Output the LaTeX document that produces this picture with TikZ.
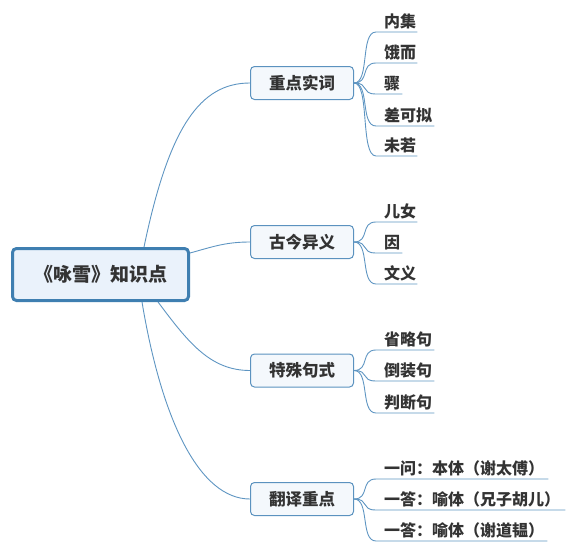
\documentclass[tikz,border=0pt]{standalone}
\usepackage{fontspec}
\usetikzlibrary{calc}
\newfontfamily\cjk{Noto Sans CJK SC}
\definecolor{rootblue}{HTML}{3F7FB1}
\definecolor{rootfill}{HTML}{EAF2FB}
\definecolor{topicblue}{HTML}{5B92BF}
\definecolor{topicfill}{HTML}{F4F8FC}
\definecolor{linkblue}{HTML}{5E95C2}
\definecolor{txt}{HTML}{333333}
\begin{document}
\begin{tikzpicture}[x=1pt,y=-1pt,
  rootbox/.style={draw=rootblue, line width=3pt, fill=rootfill, rounded corners=4pt,
    minimum width=176pt, minimum height=52pt, text=txt,
    font=\cjk\bfseries\fontsize{19}{21}\selectfont},
  topic/.style={draw=topicblue, line width=1pt, fill=topicfill, rounded corners=4pt,
    minimum width=103pt, minimum height=33pt, text=txt,
    font=\cjk\bfseries\fontsize{16.5}{18}\selectfont},
  leaf/.style={inner xsep=0pt, inner ysep=2.5pt, anchor=south west, text=txt,
    font=\cjk\bfseries\fontsize{16}{18}\selectfont},
  conn/.style={draw=linkblue, line width=0.9pt}]
\useasboundingbox (0,0) rectangle (575,551);

\node[rootbox] (root) at (100.5,274.5) {《咏雪》知识点};
\node[topic] (t1) at (302,83) {重点实词};
\node[topic] (t2) at (302,242) {古今异义};
\node[topic] (t3) at (302,370.5) {特殊句式};
\node[topic] (t4) at (302,499) {翻译重点};

% root connectors
\draw[conn] ($(root.north)+(43.5,0)$) .. controls +(25,-120) and +(-50,0) .. (t1.west);
\draw[conn] ($(root.north east)+(0,6)$) .. controls +(22,-6) and +(-25,0) .. (t2.west);
\draw[conn] ($(root.south)+(57.5,0)$) .. controls +(30,40) and +(-40,0) .. (t3.west);
\draw[conn] ($(root.south)+(41.5,0)$) .. controls +(20,120) and +(-50,0) .. (t4.west);

% leaves of t1
\node[leaf] (a1) at (384,32) {内集};
\node[leaf] (a2) at (384,63) {饿而};
\node[leaf] (a3) at (384,94) {骤};
\node[leaf] (a4) at (384,126) {差可拟};
\node[leaf] (a5) at (384,156) {未若};
% leaves of t2
\node[leaf] (b1) at (384,222) {儿女};
\node[leaf] (b2) at (384,253) {因};
\node[leaf] (b3) at (384,284) {文义};
% leaves of t3
\node[leaf] (c1) at (384,350) {省略句};
\node[leaf] (c2) at (384,381) {倒装句};
\node[leaf] (c3) at (384,413) {判断句};
% leaves of t4
\node[leaf] (d1) at (384,479) {一问：本体（谢太傅）};
\node[leaf] (d2) at (384,510) {一答：喻体（兄子胡儿）};
\node[leaf] (d3) at (384,541) {一答：喻体（谢道韫）};

\foreach \t/\l/\e in {t1/a1/1,t1/a2/1,t1/a3/2,t1/a4/2,t1/a5/1,
                      t2/b1/1,t2/b2/2,t2/b3/1,
                      t3/c1/2,t3/c2/2,t3/c3/2,
                      t4/d1/4,t4/d2/5,t4/d3/3}{
  \draw[conn] (\t.east) .. controls +(16,0) and +(-16,0) .. ([xshift=-8pt]\l.south west)
     -- ([xshift=\e pt]\l.south east);
}
\end{tikzpicture}
\end{document}
